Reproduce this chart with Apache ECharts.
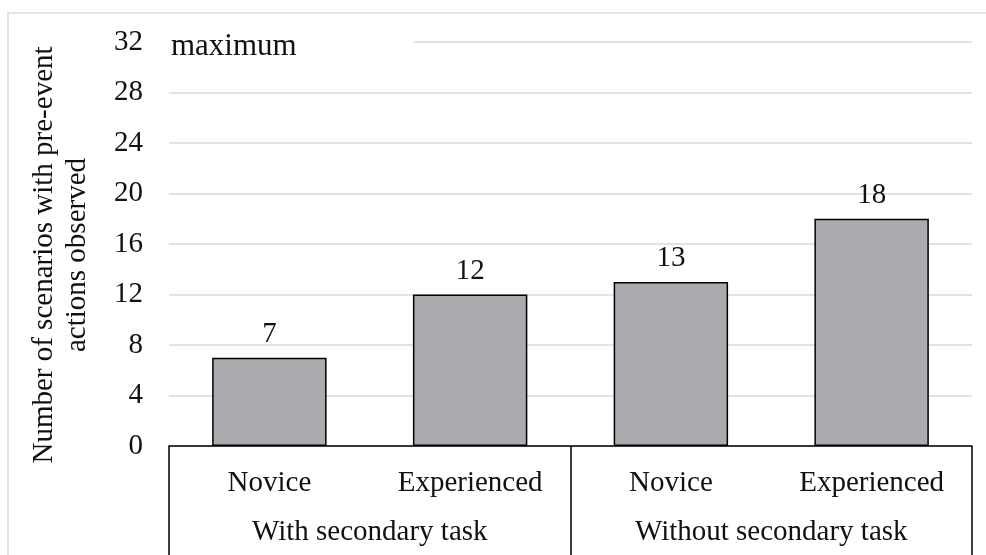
<!DOCTYPE html>
<html>
<head>
<meta charset="utf-8">
<script src="https://cdn.jsdelivr.net/npm/echarts@6/dist/echarts.min.js"></script>
<style>
  html, body { margin: 0; padding: 0; background: #fff; }
  #chart { width: 986px; height: 555px; }
</style>
</head>
<body>
<div id="chart"></div>
<script>
// Observation counts per driver group and task condition
const experienceLevels = ['Novice', 'Experienced', 'Novice', 'Experienced'];
const taskConditions = ['With secondary task', 'Without secondary task'];
const scenarioCounts = [7, 12, 13, 18];
const yTicks = { min: 0, max: 32, interval: 4 };
const yTitle = 'Number of scenarios with pre-event\nactions observed';
const maxLabel = 'maximum';

const FONT = '"Liberation Serif", "Times New Roman", serif';
const INK = '#111';

const chart = echarts.init(document.getElementById('chart'), null, { renderer: 'canvas' });

const option = {
  animation: false,
  backgroundColor: '#fff',
  grid: { left: 169, right: 14, top: 42, bottom: 109, containLabel: false, outerBoundsMode: 'none' },
  xAxis: [
    {
      type: 'category',
      data: experienceLevels,
      position: 'bottom',
      axisLine: { show: true, lineStyle: { color: '#000', width: 1.5 } },
      axisTick: { show: false },
      axisLabel: { margin: 23, color: INK, fontFamily: FONT, fontSize: 29 },
      splitLine: { show: false }
    },
    {
      type: 'category',
      data: taskConditions,
      position: 'bottom',
      axisLine: { show: false },
      axisTick: { show: true, length: 112, lineStyle: { color: '#000', width: 1.5 } },
      axisLabel: { margin: 72, color: INK, fontFamily: FONT, fontSize: 29 },
      splitLine: { show: false }
    }
  ],
  yAxis: {
    type: 'value',
    min: yTicks.min,
    max: yTicks.max,
    interval: yTicks.interval,
    axisLine: { show: false },
    axisTick: { show: false },
    axisLabel: { margin: 26, color: INK, fontFamily: FONT, fontSize: 29 },
    splitLine: { show: true, lineStyle: { color: '#d9dadc', width: 1.5 } }
  },
  series: [
    {
      type: 'bar',
      xAxisIndex: 0,
      data: scenarioCounts,
      barWidth: '57%',
      itemStyle: { color: '#aaabae', borderColor: '#000', borderWidth: 1.5 },
      label: {
        show: true,
        position: 'top',
        distance: 9,
        color: INK,
        fontFamily: FONT,
        fontSize: 29
      }
    }
  ]
};

chart.setOption(option);

// Decorations: outer frame, rotated axis title, and the "maximum" note on the top gridline
const yTop = chart.convertToPixel({ yAxisIndex: 0 }, yTicks.max);
const xLeft = 169;

chart.setOption({
  graphic: [
    {
      type: 'rect',
      silent: true,
      z: -1,
      shape: { x: 8, y: 13, width: 990, height: 560 },
      style: { fill: 'none', stroke: '#dcdcdc', lineWidth: 1.5 }
    },
    {
      type: 'rect',
      silent: true,
      z: 5,
      shape: { x: xLeft - 1, y: yTop - 3, width: 415 - xLeft, height: 6 },
      style: { fill: '#fff' }
    },
    {
      type: 'text',
      silent: true,
      z: 6,
      x: 171,
      y: yTop + 5,
      style: {
        text: maxLabel,
        fill: INK,
        font: '31px ' + FONT,
        textAlign: 'left',
        textVerticalAlign: 'middle'
      }
    },
    {
      type: 'text',
      silent: true,
      z: 6,
      x: 61,
      y: 255,
      rotation: Math.PI / 2,
      style: {
        text: yTitle,
        fill: INK,
        font: '29px ' + FONT,
        lineHeight: 33,
        textAlign: 'center',
        textVerticalAlign: 'middle'
      }
    }
  ]
});
</script>
</body>
</html>
